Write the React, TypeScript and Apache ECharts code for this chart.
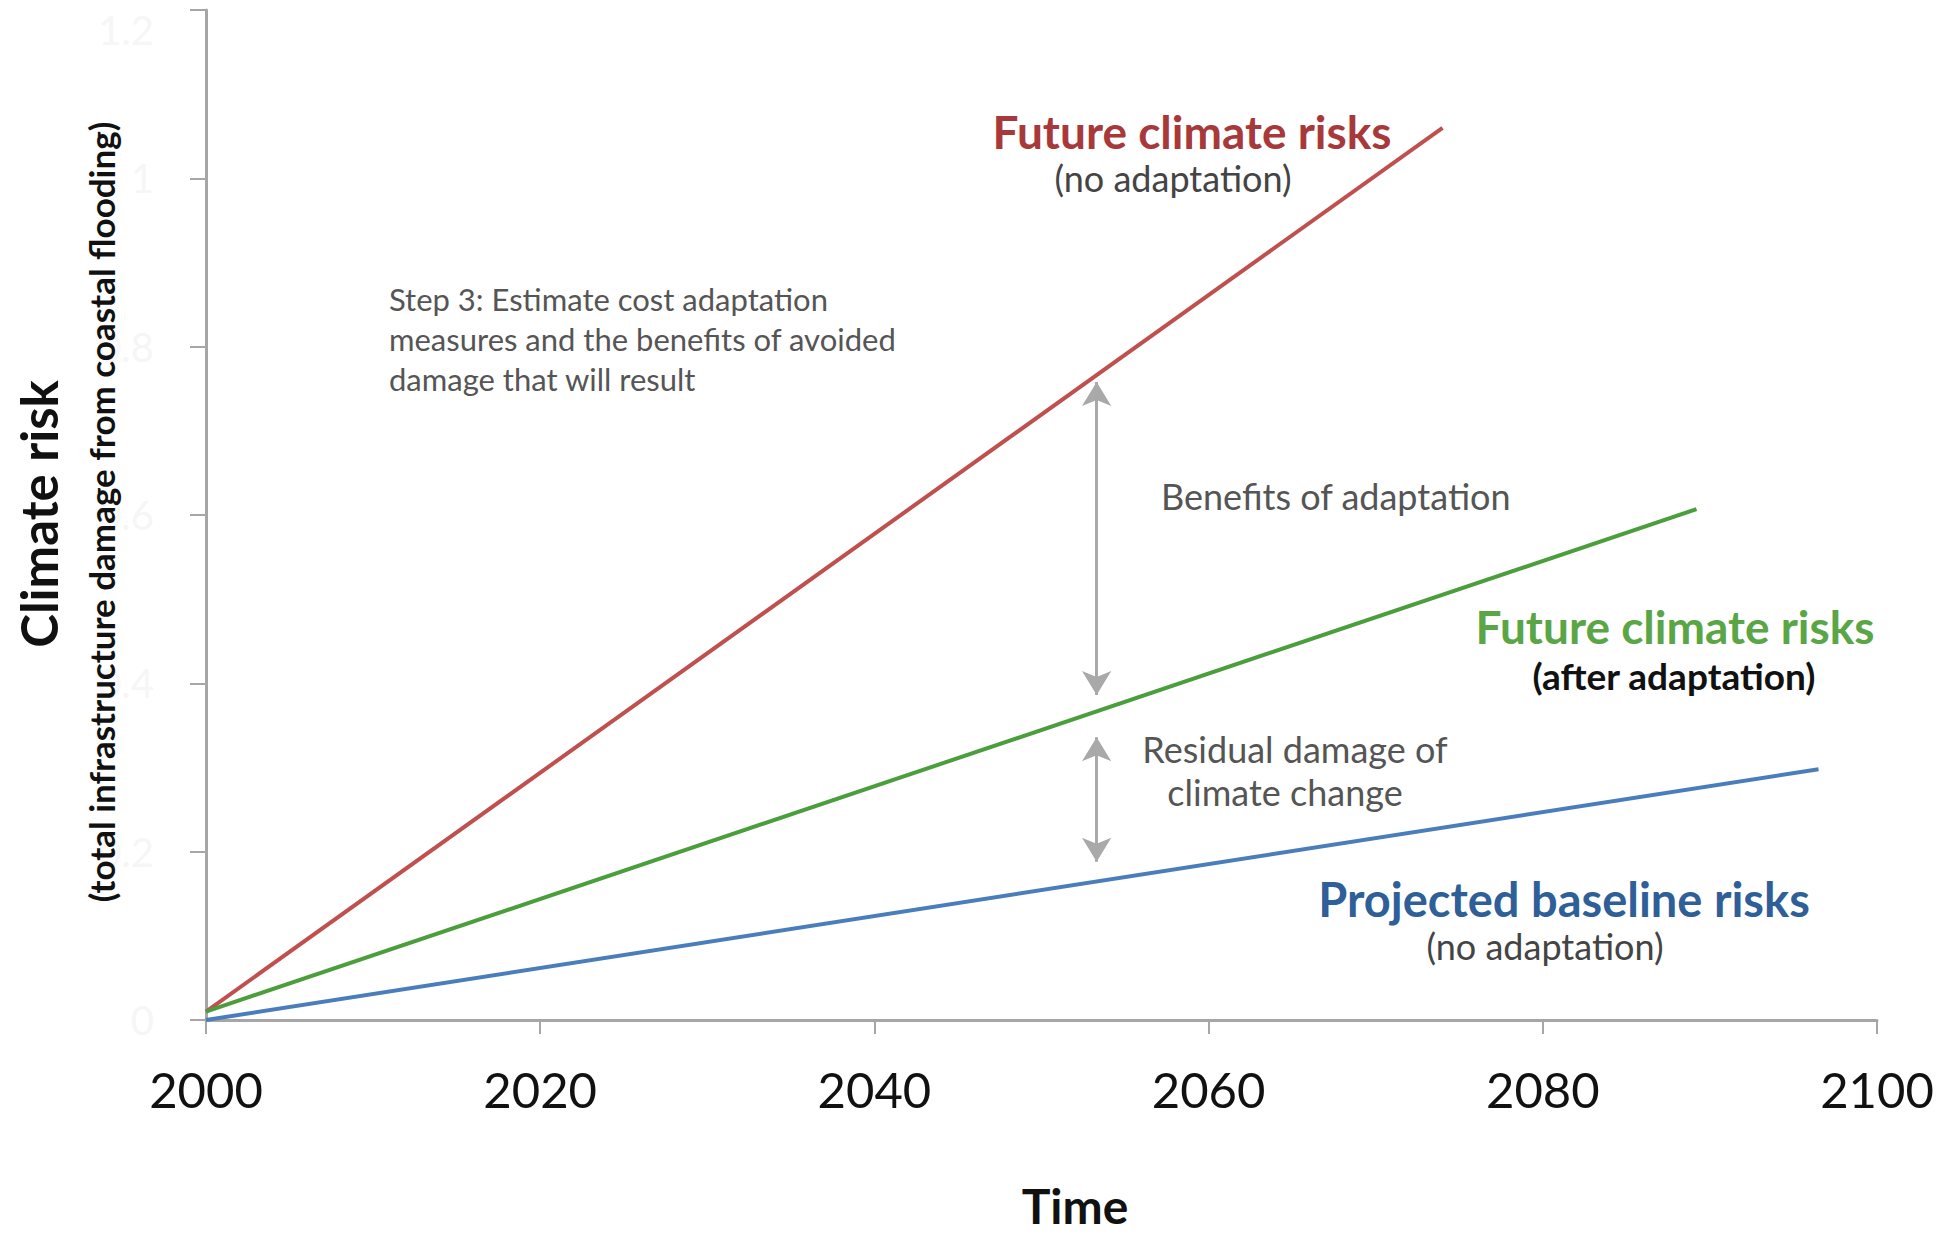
import React, { useEffect, useRef } from "react";
import * as echarts from "echarts";

const years = [2000, 2020, 2040, 2060, 2080, 2100];
const yTicks = [0, 0.2, 0.4, 0.6, 0.8, 1.0, 1.2];

const redSeries: [number, number][] = [[2000, 0.01], [2074, 1.06]];
const greenSeries: [number, number][] = [[2000, 0.01], [2089.2, 0.607]];
const blueSeries: [number, number][] = [[2000, 0.0], [2096.5, 0.298]];

const arrowYear = 2053.3;
const benefitsArrow: [number, number] = [0.758, 0.386];
const residualArrow: [number, number] = [0.336, 0.188];

const FONT = "Lato, 'Open Sans', sans-serif";

export default function App() {
  const ref = useRef<HTMLDivElement>(null);
  useEffect(() => {
    if (!ref.current) return;
    const chart = echarts.init(ref.current, undefined, { renderer: "svg" });
    const axisGray = "#a6a6a6";
    const arrowLine = (a: [number, number]) => [
      { coord: [arrowYear, a[0]] },
      { coord: [arrowYear, a[1]] },
    ];
    const txt = (
      text: string,
      x: number,
      y: number,
      size: number,
      fill: string,
      opts: any = {}
    ) => ({
      type: "text",
      x,
      y,
      z: 100,
      rotation: opts.rotation || 0,
      style: {
        text,
        fontFamily: FONT,
        fontWeight: opts.bold ? "bold" : "normal",
        fontSize: size,
        lineHeight: opts.lineHeight,
        fill,
        align: opts.align || "center",
        verticalAlign: opts.vAlign || "middle",
      },
    });
    chart.setOption({
      animation: false,
      backgroundColor: "#ffffff",
      grid: { left: 206, right: 78, top: 10, bottom: 218, containLabel: false },
      xAxis: {
        type: "value",
        min: years[0],
        max: years[years.length - 1],
        interval: 20,
        axisLine: { show: true, lineStyle: { color: axisGray, width: 3 } },
        axisTick: { show: true, length: 14, lineStyle: { color: axisGray, width: 2 } },
        splitLine: { show: false },
        axisLabel: {
          fontFamily: FONT,
          fontSize: 49,
          color: "#111",
          margin: 44,
          formatter: (v: number) => String(v),
        },
      },
      yAxis: {
        type: "value",
        min: yTicks[0],
        max: yTicks[yTicks.length - 1],
        interval: 0.2,
        axisLine: { show: true, lineStyle: { color: axisGray, width: 3 } },
        axisTick: { show: true, length: 16, lineStyle: { color: axisGray, width: 2 } },
        splitLine: { show: false },
        axisLabel: {
          fontFamily: FONT,
          fontSize: 40,
          color: "#f6f6f6",
          margin: 52,
          verticalAlignMaxLabel: "top",
          formatter: (v: number) => String(Math.round(v * 10) / 10),
        },
      },
      series: [
        {
          type: "line",
          data: redSeries,
          showSymbol: false,
          lineStyle: { color: "#c0504d", width: 4 },
          z: 3,
        },
        {
          type: "line",
          data: greenSeries,
          showSymbol: false,
          lineStyle: { color: "#4a9e3c", width: 4 },
          z: 3,
        },
        {
          type: "line",
          data: blueSeries,
          showSymbol: false,
          lineStyle: { color: "#4a7ebb", width: 4 },
          z: 3,
          markLine: {
            silent: true,
            symbol: ["arrow", "arrow"],
            symbolSize: [22, 24],
            label: { show: false },
            lineStyle: { color: "#a9a9a9", width: 3, type: "solid" },
            data: [arrowLine(benefitsArrow), arrowLine(residualArrow)],
          },
        },
      ],
      graphic: [
        txt("Future climate risks", 1192, 131, 46, "#a8393a", { bold: true }),
        txt("(no adaptation)", 1173, 178, 36, "#444"),
        txt(
          "Step 3: Estimate cost adaptation\nmeasures and the benefits of avoided\ndamage that will result",
          389,
          279,
          31,
          "#555",
          { align: "left", vAlign: "top", lineHeight: 40 }
        ),
        txt("Benefits of adaptation", 1161, 496, 36, "#555", { align: "left" }),
        txt("Future climate risks", 1675, 626, 46, "#5aa646", { bold: true }),
        txt("(after adaptation)", 1674, 675, 37, "#111", { bold: true }),
        txt("Residual damage of", 1295, 749, 36, "#555"),
        txt("climate change", 1285, 792, 36, "#555"),
        txt("Projected baseline risks", 1564, 899, 47, "#2f5f98", { bold: true }),
        txt("(no adaptation)", 1545, 946, 36, "#444"),
        txt("Time", 1075, 1205, 48, "#111", { bold: true, lineHeight: 48 }),
        txt("Climate risk", 38, 514, 51, "#111", { bold: true, rotation: Math.PI / 2 }),
        txt("(total infrastructure damage from coastal flooding)", 101, 512, 35, "#111", {
          bold: true,
          rotation: Math.PI / 2,
        }),
      ],
    });
    return () => chart.dispose();
  }, []);
  return (
    <div
      ref={ref}
      style={{ position: "fixed", left: 0, top: 0, width: "1955px", height: "1238px", background: "#fff" }}
    />
  );
}
